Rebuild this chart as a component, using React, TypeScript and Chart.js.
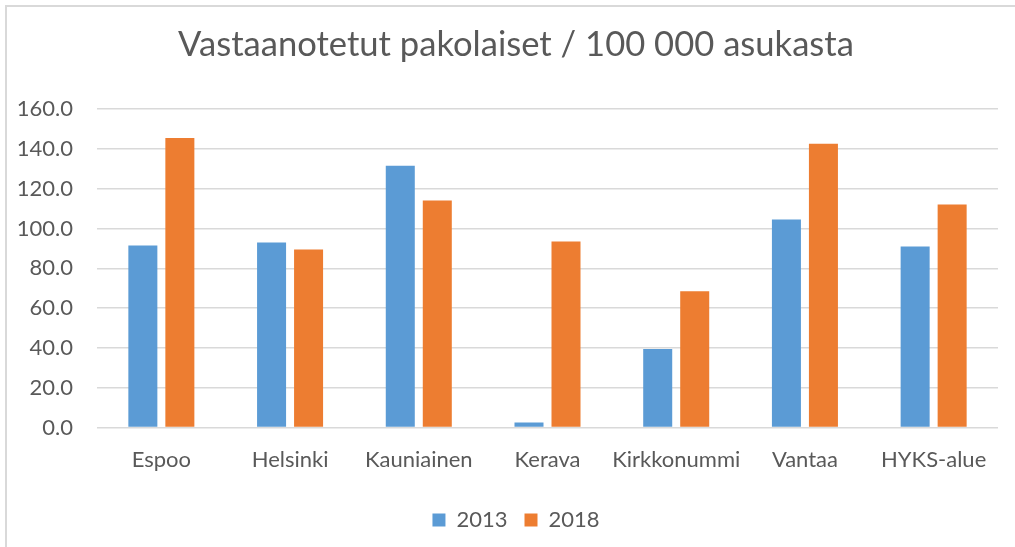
import React, { useEffect, useRef } from "react";
import { Chart, registerables } from "chart.js";

Chart.register(...registerables);

const categories = ["Espoo", "Helsinki", "Kauniainen", "Kerava", "Kirkkonummi", "Vantaa", "HYKS-alue"];
const values2013 = [91.5, 93, 131.5, 2.5, 39.5, 104.5, 91];
const values2018 = [145.5, 89.5, 114, 93.5, 68.5, 142.5, 112];
const seriesLabels = ["2013", "2018"];
const titleText = "Vastaanotetut pakolaiset / 100 000 asukasta";
const yMin = 0;
const yMax = 160;
const yStep = 20;

const TEXT = "#595959";
const GRID = "#D9D9D9";
const FONT = "Lato";

export default function App() {
  const ref = useRef<HTMLCanvasElement | null>(null);

  useEffect(() => {
    if (!ref.current) return;
    const chart = new Chart(ref.current, {
      type: "bar",
      data: {
        labels: categories,
        datasets: [
          { label: seriesLabels[0], data: values2013, backgroundColor: "#5B9BD5", categoryPercentage: 0.575, barPercentage: 0.784 },
          { label: seriesLabels[1], data: values2018, backgroundColor: "#ED7D31", categoryPercentage: 0.575, barPercentage: 0.784 },
        ],
      },
      options: {
        responsive: false,
        animation: false,
        devicePixelRatio: 1,
        layout: { padding: { left: 0, right: 0, top: 0, bottom: 6 } },
        plugins: {
          title: {
            display: true,
            text: titleText,
            color: TEXT,
            font: { family: FONT, size: 34.6, weight: "normal" },
            padding: { top: 24.3, bottom: 43.2 },
          },
          legend: {
            position: "bottom",
            labels: {
              color: TEXT,
              font: { family: FONT, size: 22 },
              boxWidth: 13,
              boxHeight: 13,
              padding: 17,
            },
          },
          tooltip: { enabled: false },
        },
        scales: {
          x: {
            grid: { display: false, drawTicks: false },
            border: { display: false },
            ticks: { color: TEXT, font: { family: FONT, size: 22 }, padding: 19, maxRotation: 0, autoSkip: false },
          },
          y: {
            min: yMin,
            max: yMax,
            grid: { color: GRID, lineWidth: 1.6, drawTicks: false },
            border: { display: false },
            ticks: {
              stepSize: yStep,
              color: TEXT,
              font: { family: FONT, size: 22 },
              padding: 24,
              callback: (v: any) => Number(v).toFixed(1),
            },
            afterFit: (s: any) => {
              s.width = 97;
            },
          },
          y2: {
            position: "right",
            display: true,
            grid: { display: false, drawTicks: false },
            border: { display: false },
            ticks: { display: false },
            afterFit: (s: any) => {
              s.width = 34;
            },
          },
        },
      },
    });
    return () => chart.destroy();
  }, []);

  return (
    <div style={{ position: "fixed", left: 0, top: 0, width: 1015, height: 547, overflow: "hidden", background: "#fff" }}>
      <canvas ref={ref} width={1032} height={547} style={{ position: "absolute", left: 0, top: 0, width: 1032, height: 547 }} />
      <div
        style={{
          position: "absolute",
          left: 5,
          top: 5,
          width: 1040,
          height: 560,
          border: "2px solid #D9D9D9",
          pointerEvents: "none",
        }}
      />
    </div>
  );
}
